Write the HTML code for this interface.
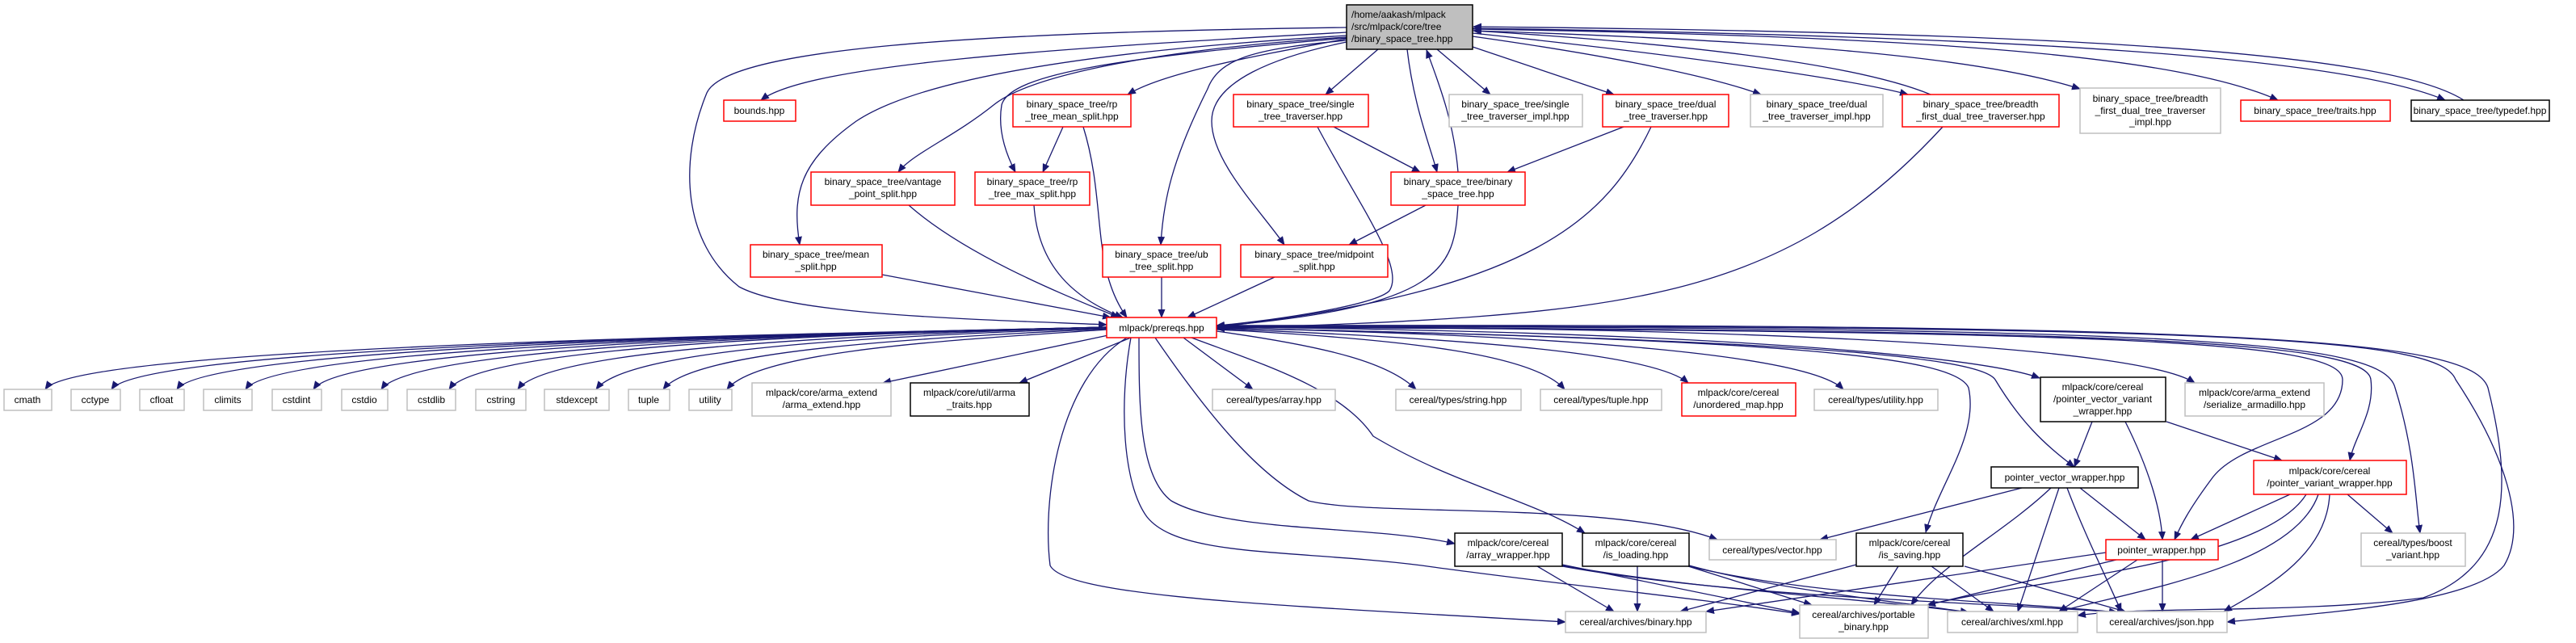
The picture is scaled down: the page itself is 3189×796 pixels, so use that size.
<!DOCTYPE html>
<html><head><meta charset="utf-8"><style>
html,body{margin:0;padding:0;background:#fff;}
svg{display:block;}
text{font-family:"Liberation Sans",sans-serif;font-size:12px;fill:#000;}
.e{fill:none;stroke:#191970;stroke-width:1.3;marker-end:url(#a);}
.r{fill:#fff;stroke:#ff0000;stroke-width:1.5;}
.g{fill:#fff;stroke:#bfbfbf;stroke-width:1.5;}
.k{fill:#fff;stroke:#000;stroke-width:1.5;}
</style></head><body>
<svg width="3189" height="796" viewBox="0 0 3189 796" xmlns="http://www.w3.org/2000/svg">
<defs><marker id="a" markerUnits="userSpaceOnUse" markerWidth="11" markerHeight="9" refX="10" refY="4.5" orient="auto"><path d="M0,0 L11,4.5 L0,9 z" fill="#191970"/></marker></defs>
<g>
<path class="e" d="M1667,34 C1200,40 900,60 875,115 C840,200 845,300 915,355 C980,390 1200,395 1370,402"/>
<path class="e" d="M1667,40 C1300,60 1000,80 942,124"/>
<path class="e" d="M1667,44 C1400,60 1150,90 1060,150 C990,200 980,240 990,303"/>
<path class="e" d="M1667,46 C1450,60 1280,90 1230,130 C1180,170 1130,190 1112,213"/>
<path class="e" d="M1667,47 C1400,70 1250,90 1240,130 C1235,160 1245,190 1257,213"/>
<path class="e" d="M1667,48 C1550,70 1440,90 1396,117"/>
<path class="e" d="M1667,50 C1560,60 1510,70 1495,110 C1450,200 1440,250 1437,303"/>
<path class="e" d="M1667,52 C1580,70 1500,100 1500,150 C1500,200 1560,260 1590,303"/>
<path class="e" d="M1706,61 L1641,117"/>
<path class="e" d="M1742,61 C1750,130 1770,180 1779,213"/>
<path class="e" d="M1805,213 C1800,150 1780,100 1766,62"/>
<path class="e" d="M1779,61 L1845,117"/>
<path class="e" d="M1823,58 L1998,117"/>
<path class="e" d="M1823,45 C2000,70 2120,95 2180,117"/>
<path class="e" d="M1823,41 C2100,70 2300,100 2362,117"/>
<path class="e" d="M2390,117 C2300,80 2100,55 1824,38"/>
<path class="e" d="M1823,38 C2200,50 2450,70 2575,110"/>
<path class="e" d="M1823,36 C2400,45 2700,70 2820,124"/>
<path class="e" d="M1823,35 C2500,45 2900,70 3027,124"/>
<path class="e" d="M3050,124 C2950,60 2500,40 1824,33"/>
<path class="e" d="M1316,157 L1291,213"/>
<path class="e" d="M1341,157 C1370,250 1350,330 1395,393"/>
<path class="e" d="M1125,254 C1200,320 1330,370 1385,393"/>
<path class="e" d="M1280,254 C1285,330 1330,370 1390,393"/>
<path class="e" d="M1092,340 L1375,393"/>
<path class="e" d="M1438,343 L1438,393"/>
<path class="e" d="M1578,343 L1470,393"/>
<path class="e" d="M1651,157 L1758,213"/>
<path class="e" d="M1631,157 C1680,250 1740,330 1720,360 C1700,380 1550,400 1506,403"/>
<path class="e" d="M2010,157 L1866,213"/>
<path class="e" d="M2044,157 C1990,270 1900,360 1506,405"/>
<path class="e" d="M2405,157 C2200,380 2000,390 1506,407"/>
<path class="e" d="M1765,254 L1670,303"/>
<path class="e" d="M1805,254 C1800,330 1790,380 1506,404"/>
<path class="e" d="M1370,405 C1100,412 96,425 56,482"/>
<path class="e" d="M1370,405 C1100,412 178,425 138,482"/>
<path class="e" d="M1370,405 C1100,412 259,425 219,482"/>
<path class="e" d="M1370,405 C1100,412 344,425 304,482"/>
<path class="e" d="M1370,405 C1100,412 428,425 388,482"/>
<path class="e" d="M1370,405 C1100,412 512,425 472,482"/>
<path class="e" d="M1370,405 C1100,412 596,425 556,482"/>
<path class="e" d="M1370,405 C1100,414 681,428 641,482"/>
<path class="e" d="M1370,406 C1100,416 778,430 738,482"/>
<path class="e" d="M1370,407 C1150,418 861,432 821,482"/>
<path class="e" d="M1370,408 C1200,420 940,432 900,482"/>
<path class="e" d="M1372,415 L1093,474"/>
<path class="e" d="M1400,418 L1262,474"/>
<path class="e" d="M1465,418 L1551,482"/>
<path class="e" d="M1506,410 C1650,430 1720,450 1753,482"/>
<path class="e" d="M1506,408 C1750,420 1900,440 1937,482"/>
<path class="e" d="M1506,407 C1850,420 2050,440 2090,474"/>
<path class="e" d="M1506,406 C1950,415 2240,440 2282,482"/>
<path class="e" d="M1506,405 C2100,410 2450,440 2525,468"/>
<path class="e" d="M1506,404 C2200,405 2650,430 2717,474"/>
<path class="e" d="M1506,406 C2200,420 2450,440 2470,470 C2500,520 2530,550 2568,578"/>
<path class="e" d="M1506,406 C2200,420 2420,440 2437,480 C2450,540 2400,600 2384,659"/>
<path class="e" d="M1506,405 C2600,410 2900,420 2900,470 C2900,540 2780,540 2740,590 C2710,630 2700,650 2692,668"/>
<path class="e" d="M1506,405 C2600,408 2930,420 2935,470 C2940,510 2915,540 2909,570"/>
<path class="e" d="M1506,404 C2700,405 2950,420 2965,480 C2990,560 2990,620 2996,660"/>
<path class="e" d="M1506,404 C2800,402 3020,420 3040,470 C3100,560 3130,650 3100,700 C3060,750 2850,760 2757,770"/>
<path class="e" d="M1506,403 C2800,400 3060,420 3080,480 C3110,600 3110,700 3000,740 C2850,760 2650,750 2572,762"/>
<path class="e" d="M1395,418 C1310,470 1290,620 1300,700 C1320,740 1600,750 1938,770"/>
<path class="e" d="M1400,418 C1385,500 1390,600 1420,640 C1460,690 1600,680 1760,700 C1900,720 2100,740 2228,760"/>
<path class="e" d="M1410,418 C1410,500 1410,590 1450,620 C1520,660 1700,650 1801,673"/>
<path class="e" d="M1430,418 C1500,520 1560,590 1620,620 C1700,640 2000,620 2126,668"/>
<path class="e" d="M1475,418 C1560,450 1660,480 1700,540 C1800,600 1900,620 1962,660"/>
<path class="e" d="M2590,522 L2568,578"/>
<path class="e" d="M2631,522 C2660,580 2675,630 2677,668"/>
<path class="e" d="M2682,522 L2825,570"/>
<path class="e" d="M2503,604 L2253,668"/>
<path class="e" d="M2575,604 L2656,668"/>
<path class="e" d="M2539,604 C2480,660 2400,700 2366,749"/>
<path class="e" d="M2549,604 L2498,757"/>
<path class="e" d="M2559,604 C2580,660 2610,720 2626,757"/>
<path class="e" d="M2835,612 L2712,668"/>
<path class="e" d="M2906,612 L2962,660"/>
<path class="e" d="M2855,612 C2800,700 2500,720 2386,749"/>
<path class="e" d="M2870,612 C2840,700 2650,730 2549,757"/>
<path class="e" d="M2884,612 C2880,690 2800,730 2753,757"/>
<path class="e" d="M2607,684 L2112,757"/>
<path class="e" d="M2620,693 L2386,749"/>
<path class="e" d="M2646,693 L2549,757"/>
<path class="e" d="M2677,693 L2677,757"/>
<path class="e" d="M1903,701 L1998,757"/>
<path class="e" d="M1934,699 L2228,759"/>
<path class="e" d="M1934,700 C2100,730 2300,740 2437,758"/>
<path class="e" d="M1934,701 C2150,740 2450,745 2621,758"/>
<path class="e" d="M2027,701 L2027,757"/>
<path class="e" d="M2090,701 L2243,749"/>
<path class="e" d="M2091,700 C2200,730 2350,745 2437,758"/>
<path class="e" d="M2091,701 C2250,740 2500,745 2621,758"/>
<path class="e" d="M2298,699 L2080,757"/>
<path class="e" d="M2350,701 L2320,749"/>
<path class="e" d="M2391,701 L2468,757"/>
<path class="e" d="M2432,701 L2631,757"/>
</g>
<g>
<rect x="1667" y="6" width="156" height="55" fill="#bfbfbf" stroke="#000" stroke-width="1.5"/>
<text x="1673" y="22">/home/aakash/mlpack</text><text x="1673" y="37">/src/mlpack/core/tree</text><text x="1673" y="52">/binary_space_tree.hpp</text>
<rect class="r" x="896" y="124" width="89" height="26"/><text x="940" y="141" text-anchor="middle">bounds.hpp</text>
<rect class="r" x="1254" y="117" width="146" height="40"/><text x="1327" y="133" text-anchor="middle">binary_space_tree/rp</text><text x="1327" y="148" text-anchor="middle">_tree_mean_split.hpp</text>
<rect class="r" x="1527" y="117" width="167" height="40"/><text x="1610" y="133" text-anchor="middle">binary_space_tree/single</text><text x="1610" y="148" text-anchor="middle">_tree_traverser.hpp</text>
<rect class="g" x="1794" y="117" width="165" height="40"/><text x="1876" y="133" text-anchor="middle">binary_space_tree/single</text><text x="1876" y="148" text-anchor="middle">_tree_traverser_impl.hpp</text>
<rect class="r" x="1984" y="117" width="156" height="40"/><text x="2062" y="133" text-anchor="middle">binary_space_tree/dual</text><text x="2062" y="148" text-anchor="middle">_tree_traverser.hpp</text>
<rect class="g" x="2167" y="117" width="164" height="40"/><text x="2249" y="133" text-anchor="middle">binary_space_tree/dual</text><text x="2249" y="148" text-anchor="middle">_tree_traverser_impl.hpp</text>
<rect class="r" x="2355" y="117" width="194" height="40"/><text x="2452" y="133" text-anchor="middle">binary_space_tree/breadth</text><text x="2452" y="148" text-anchor="middle">_first_dual_tree_traverser.hpp</text>
<rect class="g" x="2575" y="109" width="174" height="56"/><text x="2662" y="126" text-anchor="middle">binary_space_tree/breadth</text><text x="2662" y="141" text-anchor="middle">_first_dual_tree_traverser</text><text x="2662" y="155" text-anchor="middle">_impl.hpp</text>
<rect class="r" x="2774" y="124" width="185" height="26"/><text x="2866" y="141" text-anchor="middle">binary_space_tree/traits.hpp</text>
<rect class="k" x="2985" y="124" width="171" height="26"/><text x="3070" y="141" text-anchor="middle">binary_space_tree/typedef.hpp</text>
<rect class="r" x="1004" y="213" width="178" height="41"/><text x="1093" y="229" text-anchor="middle">binary_space_tree/vantage</text><text x="1093" y="244" text-anchor="middle">_point_split.hpp</text>
<rect class="r" x="1207" y="213" width="142" height="41"/><text x="1278" y="229" text-anchor="middle">binary_space_tree/rp</text><text x="1278" y="244" text-anchor="middle">_tree_max_split.hpp</text>
<rect class="r" x="1722" y="213" width="166" height="41"/><text x="1805" y="229" text-anchor="middle">binary_space_tree/binary</text><text x="1805" y="244" text-anchor="middle">_space_tree.hpp</text>
<rect class="r" x="929" y="303" width="163" height="40"/><text x="1010" y="319" text-anchor="middle">binary_space_tree/mean</text><text x="1010" y="334" text-anchor="middle">_split.hpp</text>
<rect class="r" x="1365" y="303" width="146" height="40"/><text x="1438" y="319" text-anchor="middle">binary_space_tree/ub</text><text x="1438" y="334" text-anchor="middle">_tree_split.hpp</text>
<rect class="r" x="1536" y="303" width="182" height="40"/><text x="1627" y="319" text-anchor="middle">binary_space_tree/midpoint</text><text x="1627" y="334" text-anchor="middle">_split.hpp</text>
<rect class="r" x="1370" y="393" width="136" height="25"/><text x="1438" y="410" text-anchor="middle">mlpack/prereqs.hpp</text>
<rect class="g" x="5" y="482" width="59" height="26"/><text x="34" y="499" text-anchor="middle">cmath</text>
<rect class="g" x="88" y="482" width="61" height="26"/><text x="118" y="499" text-anchor="middle">cctype</text>
<rect class="g" x="173" y="482" width="55" height="26"/><text x="200" y="499" text-anchor="middle">cfloat</text>
<rect class="g" x="252" y="482" width="60" height="26"/><text x="282" y="499" text-anchor="middle">climits</text>
<rect class="g" x="337" y="482" width="61" height="26"/><text x="367" y="499" text-anchor="middle">cstdint</text>
<rect class="g" x="423" y="482" width="57" height="26"/><text x="451" y="499" text-anchor="middle">cstdio</text>
<rect class="g" x="504" y="482" width="60" height="26"/><text x="534" y="499" text-anchor="middle">cstdlib</text>
<rect class="g" x="589" y="482" width="62" height="26"/><text x="620" y="499" text-anchor="middle">cstring</text>
<rect class="g" x="674" y="482" width="80" height="26"/><text x="714" y="499" text-anchor="middle">stdexcept</text>
<rect class="g" x="778" y="482" width="51" height="26"/><text x="803" y="499" text-anchor="middle">tuple</text>
<rect class="g" x="853" y="482" width="53" height="26"/><text x="879" y="499" text-anchor="middle">utility</text>
<rect class="g" x="931" y="474" width="172" height="41"/><text x="1017" y="490" text-anchor="middle">mlpack/core/arma_extend</text><text x="1017" y="505" text-anchor="middle">/arma_extend.hpp</text>
<rect class="k" x="1127" y="474" width="147" height="41"/><text x="1200" y="490" text-anchor="middle">mlpack/core/util/arma</text><text x="1200" y="505" text-anchor="middle">_traits.hpp</text>
<rect class="g" x="1501" y="482" width="152" height="26"/><text x="1577" y="499" text-anchor="middle">cereal/types/array.hpp</text>
<rect class="g" x="1728" y="482" width="155" height="26"/><text x="1805" y="499" text-anchor="middle">cereal/types/string.hpp</text>
<rect class="g" x="1907" y="482" width="150" height="26"/><text x="1982" y="499" text-anchor="middle">cereal/types/tuple.hpp</text>
<rect class="r" x="2082" y="474" width="141" height="41"/><text x="2152" y="490" text-anchor="middle">mlpack/core/cereal</text><text x="2152" y="505" text-anchor="middle">/unordered_map.hpp</text>
<rect class="g" x="2246" y="482" width="153" height="26"/><text x="2322" y="499" text-anchor="middle">cereal/types/utility.hpp</text>
<rect class="k" x="2526" y="467" width="155" height="55"/><text x="2603" y="483" text-anchor="middle">mlpack/core/cereal</text><text x="2603" y="498" text-anchor="middle">/pointer_vector_variant</text><text x="2603" y="513" text-anchor="middle">_wrapper.hpp</text>
<rect class="g" x="2705" y="474" width="172" height="41"/><text x="2791" y="490" text-anchor="middle">mlpack/core/arma_extend</text><text x="2791" y="505" text-anchor="middle">/serialize_armadillo.hpp</text>
<rect class="k" x="2465" y="578" width="182" height="26"/><text x="2556" y="595" text-anchor="middle">pointer_vector_wrapper.hpp</text>
<rect class="r" x="2790" y="570" width="189" height="42"/><text x="2884" y="587" text-anchor="middle">mlpack/core/cereal</text><text x="2884" y="602" text-anchor="middle">/pointer_variant_wrapper.hpp</text>
<rect class="k" x="1801" y="660" width="133" height="41"/><text x="1867" y="676" text-anchor="middle">mlpack/core/cereal</text><text x="1867" y="691" text-anchor="middle">/array_wrapper.hpp</text>
<rect class="k" x="1959" y="660" width="132" height="41"/><text x="2025" y="676" text-anchor="middle">mlpack/core/cereal</text><text x="2025" y="691" text-anchor="middle">/is_loading.hpp</text>
<rect class="g" x="2116" y="668" width="157" height="25"/><text x="2194" y="685" text-anchor="middle">cereal/types/vector.hpp</text>
<rect class="k" x="2298" y="660" width="132" height="41"/><text x="2364" y="676" text-anchor="middle">mlpack/core/cereal</text><text x="2364" y="691" text-anchor="middle">/is_saving.hpp</text>
<rect class="r" x="2607" y="668" width="139" height="25"/><text x="2676" y="685" text-anchor="middle">pointer_wrapper.hpp</text>
<rect class="g" x="2923" y="660" width="129" height="41"/><text x="2987" y="676" text-anchor="middle">cereal/types/boost</text><text x="2987" y="691" text-anchor="middle">_variant.hpp</text>
<rect class="g" x="1938" y="757" width="174" height="26"/><text x="2025" y="774" text-anchor="middle">cereal/archives/binary.hpp</text>
<rect class="g" x="2228" y="749" width="159" height="41"/><text x="2307" y="765" text-anchor="middle">cereal/archives/portable</text><text x="2307" y="780" text-anchor="middle">_binary.hpp</text>
<rect class="g" x="2411" y="757" width="161" height="26"/><text x="2491" y="774" text-anchor="middle">cereal/archives/xml.hpp</text>
<rect class="g" x="2596" y="757" width="161" height="26"/><text x="2676" y="774" text-anchor="middle">cereal/archives/json.hpp</text>
</g>
</svg>
</body></html>
